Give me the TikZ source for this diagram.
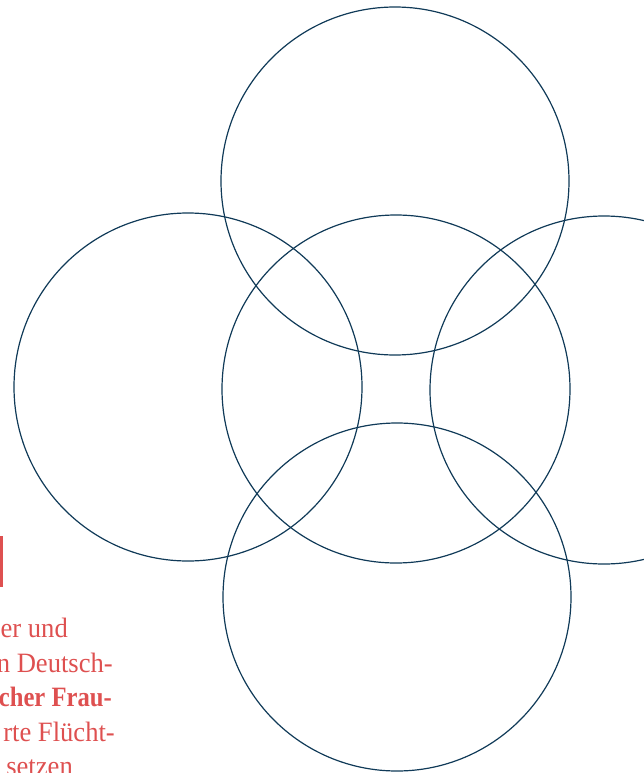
\documentclass[tikz,border=0pt]{standalone}
\usepackage{tikz}
\usepackage{fontspec}
\setmainfont{Liberation Serif}
\newfontfamily\sidefont[FakeStretch=0.95]{Liberation Serif}
\newfontfamily\sidefontbold[FakeStretch=0.88]{Liberation Serif Bold}
\usetikzlibrary{calc}
\definecolor{ringblue}{RGB}{16,58,88}
\definecolor{textred}{RGB}{222,80,80}

\begin{document}
\begin{tikzpicture}[x=1pt,y=-1pt,
    ring/.style={draw=ringblue,line width=1.2pt},
    sidetext/.style={anchor=base east,inner sep=0pt,text=textred,font=\sidefont\fontsize{28}{34}\selectfont}]
  \useasboundingbox (0,0) rectangle (644,773);
  \clip (0,0) rectangle (644,773);
  % five rings, radius 174
  \foreach \name/\cx/\cy in {top/395/181,left/188/387,mid/396/389,right/604/390,bottom/397/597}{
    \coordinate (\name) at (\cx,\cy);
    \draw[ring] (\name) circle (174);
  }
  % red marker bar
  \fill[textred] (-2,536) rectangle (3,587);
  % cut-off text at lower left
  \node[sidetext] (l1) at (68,637) {er und};
  \node[sidetext] (l2) at (113,672) {n Deutsch-};
  \node[sidetext,font=\sidefontbold\fontsize{28}{34}\selectfont] (l3) at (112,706) {cher Frau-};
  \node[sidetext] (l4) at (115,741) {rte Flücht-};
  \node[sidetext] (l5) at (73,775) {setzen};
\end{tikzpicture}
\end{document}
